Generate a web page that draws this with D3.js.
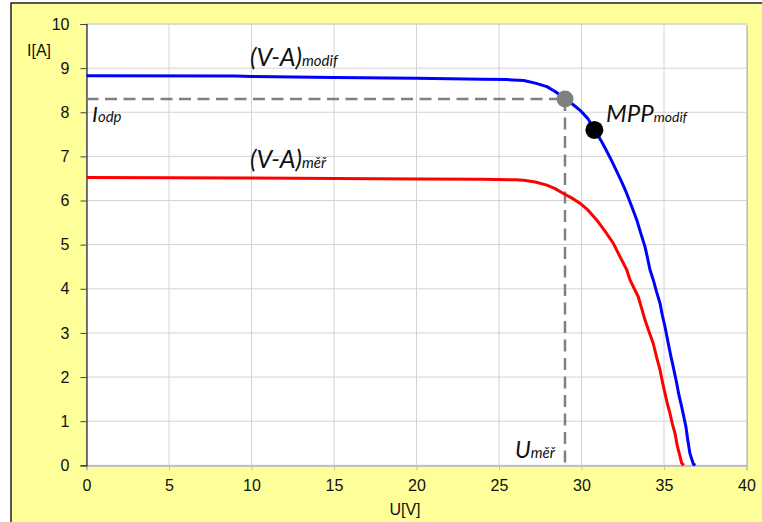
<!DOCTYPE html>
<html><head><meta charset="utf-8">
<script src="https://cdn.jsdelivr.net/npm/d3@7"></script>
<style>body{margin:0;background:#fff}svg{display:block}</style>
</head><body>
<svg id="c" width="762" height="522"></svg>
<script>
// ---- data ----
const xTicks = [0,5,10,15,20,25,30,35,40];
const yTicks = [0,1,2,3,4,5,6,7,8,9,10];
const modifU = [0,9,10,15,20,24,25.5,26.5,27.2,27.9,28.4,28.7,29.0,29.5,29.9,30.4,30.78,31.2,31.5,31.8,32.1,32.4,32.74,33.05,33.35,33.6,33.85,34.0,34.15,34.35,34.55,34.76,34.9,35.06,35.26,35.4,35.56,35.77,35.9,36.07,36.2,36.33,36.45,36.57,36.78,36.9];
const modifI = [8.83,8.82,8.81,8.79,8.77,8.75,8.74,8.72,8.66,8.58,8.47,8.39,8.30,8.17,8.05,7.85,7.60,7.35,7.14,6.92,6.69,6.45,6.16,5.86,5.56,5.25,4.95,4.70,4.43,4.20,3.93,3.67,3.40,3.14,2.76,2.50,2.23,1.86,1.60,1.33,1.10,0.87,0.55,0.27,0.03,0];
const merU = [0,10,20,24,26.0,26.5,27.2,27.9,28.4,28.9,29.4,29.9,30.4,30.92,31.4,31.93,32.3,32.74,32.94,33.2,33.44,33.65,33.85,34.1,34.35,34.55,34.76,34.9,35.06,35.2,35.36,35.5,35.67,35.8,35.97,36.07,36.2];
const merI = [6.52,6.51,6.49,6.48,6.47,6.46,6.42,6.35,6.27,6.16,6.06,5.94,5.78,5.56,5.32,5.03,4.75,4.43,4.20,4.00,3.82,3.55,3.29,3.02,2.76,2.45,2.16,1.90,1.63,1.40,1.18,0.95,0.72,0.45,0.20,0.05,0];
const odpPoint = [29.0, 8.3];
const mppPoint = [30.78, 7.6];

// ---- layout ----
const svg = d3.select('#c');
const L = 86.5, R = 746.5, T = 24, B = 465.3;
const x = d3.scaleLinear().domain([0,40]).range([L,R]);
const y = d3.scaleLinear().domain([0,10]).range([B,T]);

// outer frame
svg.append('rect').attr('x',11).attr('y',3).attr('width',800).attr('height',560)
  .attr('fill','#ffff99').attr('stroke','#222').attr('stroke-width',1.5);

// plot area
svg.append('rect').attr('x',L+1.5).attr('y',T+1.5).attr('width',R-L).attr('height',B-T).attr('fill','#c0c0c0');
svg.append('rect').attr('x',L).attr('y',T).attr('width',R-L).attr('height',B-T).attr('fill','#fff')
  .attr('stroke','#c8c8c8').attr('stroke-width',1);

// grid
const g = svg.append('g');
g.selectAll('.vg').data(xTicks.slice(1)).enter().append('line')
  .attr('x1',d=>x(d)).attr('x2',d=>x(d)).attr('y1',T).attr('y2',B)
  .attr('stroke','#d4d4d4').attr('stroke-width',1);
g.selectAll('.hg').data(yTicks.slice(1)).enter().append('line')
  .attr('x1',L).attr('x2',R).attr('y1',d=>y(d)).attr('y2',d=>y(d))
  .attr('stroke','#d4d4d4').attr('stroke-width',1);

// axes
const xAxis = svg.append('g').attr('transform',`translate(0,${B})`)
  .call(d3.axisBottom(x).tickValues(xTicks).tickSize(5).tickPadding(9));
xAxis.select('.domain').attr('stroke','#bdbdbd').attr('stroke-width',1.5);
xAxis.selectAll('.tick line').attr('stroke','#bdbdbd');
const yAxis = svg.append('g').attr('transform',`translate(${L},0)`)
  .call(d3.axisLeft(y).tickValues(yTicks).tickSize(6).tickPadding(11));
yAxis.select('.domain').attr('stroke','#222').attr('stroke-width',1.2);
yAxis.selectAll('.tick line').attr('stroke','#444');
svg.selectAll('.tick text').attr('font-family','Liberation Sans, Arial, sans-serif')
  .attr('font-size',16).attr('fill','#111');

svg.append('text').attr('x',27).attr('y',56).text('I[A]')
  .attr('font-family','Liberation Sans, Arial, sans-serif').attr('font-size',16).attr('fill','#111');
svg.append('text').attr('x',405).attr('y',515).attr('text-anchor','middle').text('U[V]')
  .attr('font-family','Liberation Sans, Arial, sans-serif').attr('font-size',16).attr('fill','#111');

// dashed guide lines
const dash = svg.append('g').attr('stroke','#808080').attr('stroke-width',2.5).attr('stroke-dasharray','12,6.5').attr('fill','none');
dash.append('line').attr('x1',x(0)).attr('x2',x(odpPoint[0])).attr('y1',y(odpPoint[1])).attr('y2',y(odpPoint[1]));
dash.append('line').attr('x1',x(odpPoint[0])).attr('x2',x(odpPoint[0])).attr('y1',y(odpPoint[1])).attr('y2',y(0));

// curves
const line = d3.line().x(d=>x(d[0])).y(d=>y(d[1]));
svg.append('path').datum(merU.map((u,i)=>[u,merI[i]])).attr('d',line)
  .attr('fill','none').attr('stroke','#ff0000').attr('stroke-width',3).attr('stroke-linejoin','round');
svg.append('path').datum(modifU.map((u,i)=>[u,modifI[i]])).attr('d',line)
  .attr('fill','none').attr('stroke','#0000ff').attr('stroke-width',3).attr('stroke-linejoin','round');

// points
svg.append('circle').attr('cx',x(odpPoint[0])).attr('cy',y(odpPoint[1])).attr('r',8.5).attr('fill','#808080');
svg.append('circle').attr('cx',x(mppPoint[0])).attr('cy',y(mppPoint[1])).attr('r',9).attr('fill','#000');

// labels
function rich(xp, yp, main, sub, fs, ss){
  const t = svg.append('text').attr('x',xp).attr('y',yp)
    .attr('font-family','Lato, "Open Sans", sans-serif').attr('font-style','italic').attr('fill','#111');
  t.append('tspan').attr('font-size',fs).text(main);
  t.append('tspan').attr('font-size',ss).text(sub);
}
rich(250, 66, '(V-A)', 'modif', 25, 15);
rich(250, 168, '(V-A)', 'měř', 25, 15);
rich(606, 122, 'MPP', 'modif', 24, 14);
rich(92, 122, 'I', 'odp', 22, 15);
rich(515, 458, 'U', 'měř', 23, 15);
</script>
</body></html>
